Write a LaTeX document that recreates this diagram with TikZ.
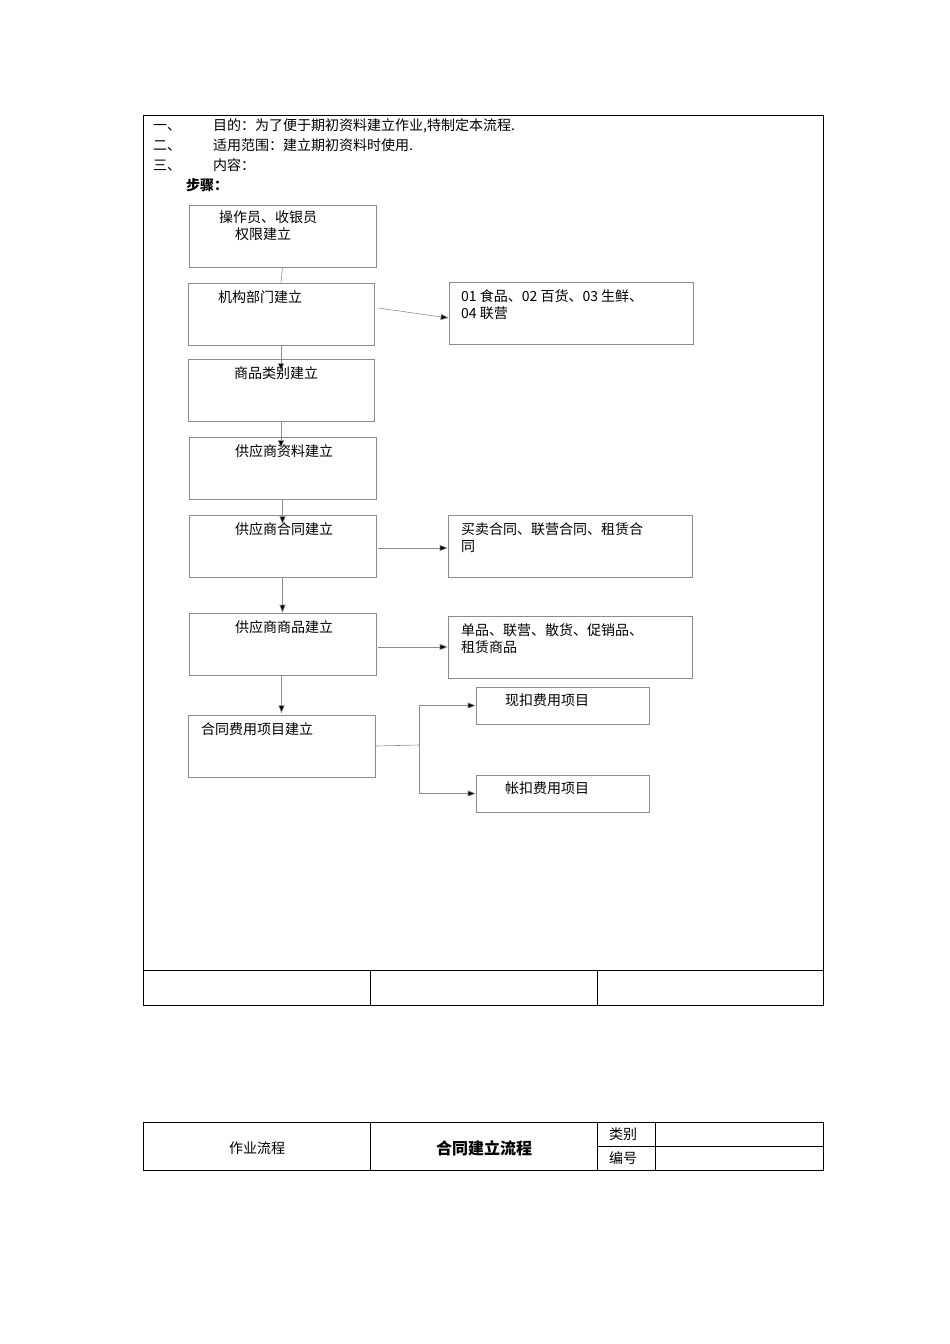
\documentclass[tikz,border=0pt]{standalone}
\usepackage{fontspec}
\setmainfont{Noto Sans CJK SC}
\usetikzlibrary{arrows.meta}
\begin{document}
\begin{tikzpicture}[x=1pt,y=-1pt,
 bx/.style={draw=black!45,line width=0.6pt},
 tx/.style={anchor=north west,inner sep=0pt,font=\fontsize{14}{17}\selectfont,align=left},
 ln/.style={draw=black!45,line width=0.6pt},
 ar/.style={ln,-{Triangle[length=8pt,width=6pt,fill=black]}}]
\useasboundingbox (0,0) rectangle (950,1344);
\draw[line width=0.8pt] (143,115) rectangle (823,1005);
\draw[line width=0.8pt] (143,970) -- (823,970) (370,970)--(370,1005) (597,970)--(597,1005);
\node[tx] (l1) at (153,118) {一、\hspace{32pt}目的：为了便于期初资料建立作业,特制定本流程.};
\node[tx] (l2) at (153,138) {二、\hspace{32pt}适用范围：建立期初资料时使用.};
\node[tx] (l3) at (153,158) {三、\hspace{32pt}内容：};
\node[tx,font=\fontsize{14}{17}\selectfont\bfseries] (l4) at (186,178) {步骤：};
% boxes
\path[bx] (189,205) rectangle (376,267) coordinate[pos=0] (a0);
\node[bx,minimum width=187,minimum height=62,inner sep=0] (A) at (282.5,236) {};
\node[tx] at (219,211) {操作员、收银员\\\hspace{16pt}权限建立};
\node[bx,minimum width=186,minimum height=62,inner sep=0] (B) at (281,314) {};
\node[tx] at (218,290) {机构部门建立};
\node[bx,minimum width=244,minimum height=62,inner sep=0] (B2) at (571,313) {};
\node[tx] at (461,289) {01 食品、02 百货、03 生鲜、\\04 联营};
\node[bx,minimum width=186,minimum height=62,inner sep=0] (C) at (281,390) {};
\node[tx] at (234,366) {商品类别建立};
\node[bx,minimum width=187,minimum height=62,inner sep=0] (D) at (282.5,468) {};
\node[tx] at (235,444) {供应商资料建立};
\node[bx,minimum width=187,minimum height=62,inner sep=0] (E) at (282.5,546) {};
\node[tx] at (235,522) {供应商合同建立};
\node[bx,minimum width=244,minimum height=62,inner sep=0] (E2) at (570,546) {};
\node[tx] at (461,522) {买卖合同、联营合同、租赁合\\同};
\node[bx,minimum width=187,minimum height=62,inner sep=0] (F) at (282.5,644) {};
\node[tx] at (235,620) {供应商商品建立};
\node[bx,minimum width=244,minimum height=62,inner sep=0] (F2) at (570,647) {};
\node[tx] at (461,623) {单品、联营、散货、促销品、\\租赁商品};
\node[bx,minimum width=187,minimum height=62,inner sep=0] (G) at (281.5,746) {};
\node[tx] at (201,722) {合同费用项目建立};
\node[bx,minimum width=173,minimum height=37,inner sep=0] (G1) at (562.5,705.5) {};
\node[tx] at (505,694) {现扣费用项目};
\node[bx,minimum width=173,minimum height=37,inner sep=0] (G2) at (562.5,793.5) {};
\node[tx] at (505,782) {帐扣费用项目};
% connectors
\draw[ln] (A.south) -- (B.north);
\draw[ar] (B.south) -- ++(0,26);
\draw[ar] (C.south) -- ++(0,27);
\draw[ar] (D.south) -- ++(0,25);
\draw[ar] (E.south) -- (F.north);
\draw[ar] ([xshift=-1pt]F.south) -- ++(0,38);
\draw[ar] (B.east) ++(4,-6) -- ([yshift=-5pt]B2.west);
\draw[ar] ([xshift=2pt,yshift=-2pt]E.east) -- ([yshift=-2pt]E2.west);
\draw[ar] ([xshift=2pt,yshift=-3pt]F.east) -- ([yshift=0pt]F2.west);
\coordinate (j) at (419,745);
\draw[ln] (G.east) -- (j);
\draw[ar] (j) |- (G1.west);
\draw[ar] (j) |- (G2.west);
% bottom table
\draw[line width=0.8pt] (143,1122) rectangle (823,1170);
\draw[line width=0.8pt] (370,1122)--(370,1170) (597,1122)--(597,1170) (655,1122)--(655,1170) (597,1146)--(823,1146);
\node[font=\fontsize{14}{17}\selectfont] (t1) at (257,1148) {作业流程};
\node[font=\fontsize{16}{19}\selectfont\bfseries] (t2) at (484,1148) {合同建立流程};
\node[font=\fontsize{14}{17}\selectfont] (t3) at (623,1134) {类别};
\node[font=\fontsize{14}{17}\selectfont] (t4) at (623,1158) {编号};
\end{tikzpicture}
\end{document}
